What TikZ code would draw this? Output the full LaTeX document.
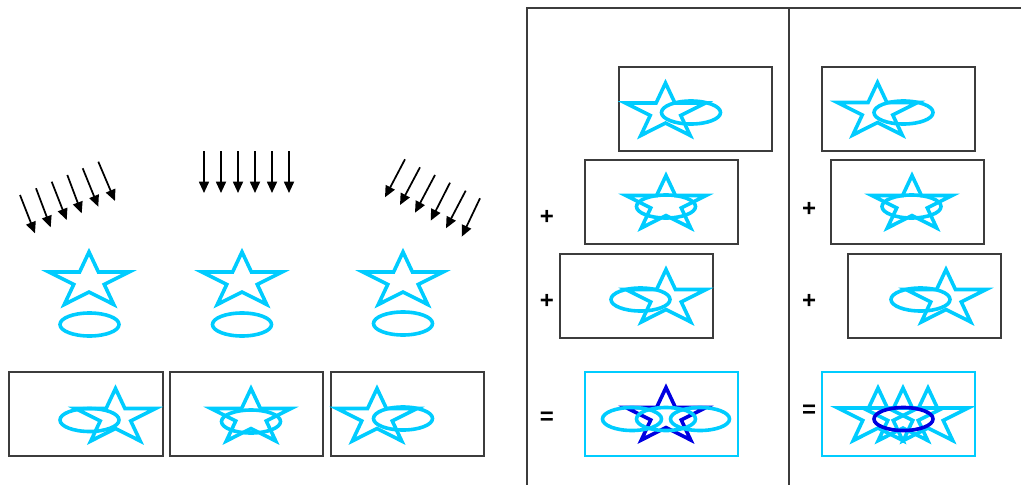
\documentclass[tikz,border=0pt]{standalone}
\usepackage{fontspec}
\setsansfont{Liberation Sans}
\usetikzlibrary{arrows.meta}
\definecolor{shapecyan}{RGB}{0,204,255}
\definecolor{shapeblue}{RGB}{0,0,225}
\definecolor{framegray}{RGB}{60,60,60}
\tikzset{
  outline/.style={line width=2.7pt},
  cyanline/.style={outline,draw=shapecyan},
  blueline/.style={outline,draw=shapeblue},
  frame/.style={draw=framegray,line width=1pt},
  cyanframe/.style={draw=shapecyan,line width=1pt},
  panel/.style={draw=framegray,line width=1.2pt},
  ray/.style={line width=1.3pt,-{Triangle[length=8.5pt,width=7.5pt]}},
  sign/.style={font=\sffamily\bfseries\fontsize{18}{20}\selectfont,inner sep=0pt}
}
% five-pointed star, squashed: #1 style, #2 centre, #3 x radius, #4 y radius
\newcommand\starat[4]{%
  \draw[#1,shift={(#2)},xscale=#3,yscale=#4]
    (0,-1) -- (0.2245,-0.309) -- (0.9511,-0.309) -- (0.3633,0.118) --
    (0.5878,0.809) -- (0,0.382) -- (-0.5878,0.809) -- (-0.3633,0.118) --
    (-0.9511,-0.309) -- (-0.2245,-0.309) -- cycle;}
\newcommand\SR{42}
\newcommand\SRy{29}
\newcommand\ovalat[2]{\draw[#1] (#2) ellipse [x radius=29.5,y radius=11.5];}
\begin{document}
\begin{tikzpicture}[x=0.75pt,y=-0.75pt]
\useasboundingbox (0,0) rectangle (1021,485);

% light rays from the upper left
\foreach \sx/\sy/\ex/\ey in {20/195/35/233.3, 36/188.3/50.7/227.3, 51.7/181.7/66.7/220,
  67.3/175/81.7/213.3, 82.7/168.3/98.3/206.7, 98.3/161.7/115/201}
  \draw[ray] (\sx,\sy) -- (\ex,\ey);
% light rays from straight above
\foreach \sx in {204,221,238,255,272,289}
  \draw[ray] (\sx,151) -- (\sx,193);
% light rays from the upper right
\foreach \sx/\sy/\ex/\ey in {405/159.3/385/197.3, 420/167.3/400/205, 435/175/415/212.7,
  450/182.7/430.7/220.7, 465.7/190.7/446/228.3, 480/198.3/461.7/236.7}
  \draw[ray] (\sx,\sy) -- (\ex,\ey);

% star above disc, three times
\starat{cyanline}{89,281}{\SR}{\SRy}
\ovalat{cyanline}{89.5,324.5}
\starat{cyanline}{242,281}{\SR}{\SRy}
\ovalat{cyanline}{242,324.5}
\starat{cyanline}{403,281}{\SR}{\SRy}
\ovalat{cyanline}{403,323.5}

% projected views
\draw[frame] (9,372) rectangle (163,456);
\starat{cyanline}{115.5,417.5}{\SR}{\SRy}
\ovalat{cyanline}{89.5,420}
\draw[frame] (170,372) rectangle (323,456);
\starat{cyanline}{251,417.5}{\SR}{\SRy}
\ovalat{cyanline}{251,421.5}
\draw[frame] (331,372) rectangle (484,456);
\starat{cyanline}{377,417.5}{\SR}{\SRy}
\ovalat{cyanline}{403,418.5}

% table frame on the right
\draw[panel] (527,485) -- (527,8) -- (1021,8);
\draw[panel] (789,8) -- (789,485);

% first column: sum of views
\draw[frame] (619,67) rectangle (772,151);
\starat{cyanline}{665.5,112}{\SR}{\SRy}
\ovalat{cyanline}{691,112.5}
\node[sign] (p1) at (547,217) {+};
\draw[frame] (585,160) rectangle (738,244);
\starat{cyanline}{666,204.5}{\SR}{\SRy}
\ovalat{cyanline}{666,206.5}
\node[sign] (p2) at (547,301) {+};
\draw[frame] (560,254) rectangle (713,338);
\starat{cyanline}{666,298.5}{\SR}{\SRy}
\ovalat{cyanline}{640.5,299.5}
\node[sign] (e1) at (547,418) {=};
\draw[cyanframe] (585,372) rectangle (738,456);
\starat{blueline}{666,416.5}{\SR}{\SRy}
\ovalat{cyanline}{632,419}
\ovalat{cyanline}{666,419}
\ovalat{cyanline}{700,419}

% second column: sum of views
\draw[frame] (822,67) rectangle (975,151);
\starat{cyanline}{877.5,111.5}{\SR}{\SRy}
\ovalat{cyanline}{903.5,112.5}
\node[sign] (p3) at (809,209) {+};
\draw[frame] (831,160) rectangle (984,244);
\starat{cyanline}{912,204.5}{\SR}{\SRy}
\ovalat{cyanline}{911.5,206.5}
\node[sign] (p4) at (809,301) {+};
\draw[frame] (848,254) rectangle (1001,338);
\starat{cyanline}{946,298.5}{\SR}{\SRy}
\ovalat{cyanline}{920.5,299.5}
\node[sign] (e2) at (809,411) {=};
\draw[cyanframe] (822,372) rectangle (975,456);
\starat{cyanline}{878,417}{\SR}{\SRy}
\starat{cyanline}{903,417}{\SR}{\SRy}
\starat{cyanline}{928,417}{\SR}{\SRy}
\ovalat{blueline}{903.5,419}
\end{tikzpicture}
\end{document}
